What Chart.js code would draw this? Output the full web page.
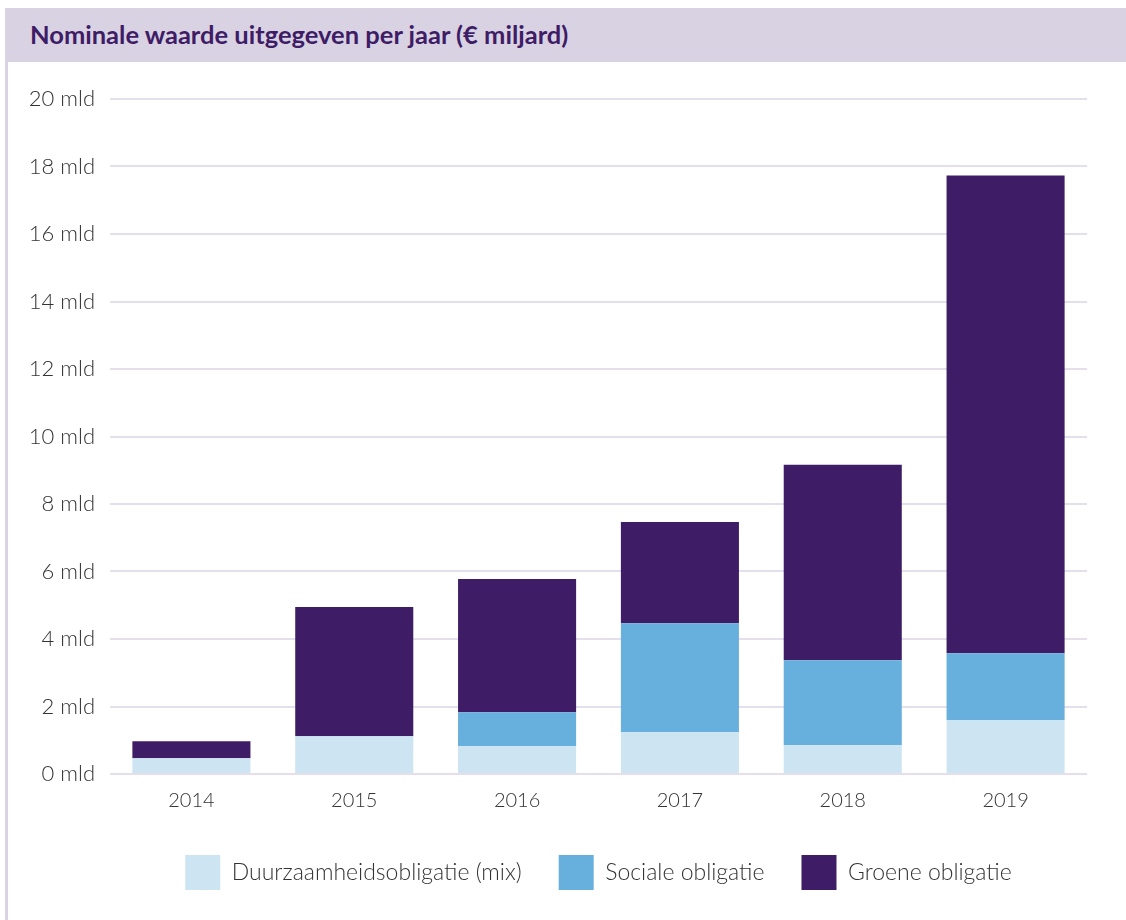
<!DOCTYPE html>
<html>
<head>
<meta charset="utf-8">
<script src="https://cdn.jsdelivr.net/npm/chart.js@4.4.1/dist/chart.umd.min.js"></script>
<style>
    body { margin: 0; background: #fff; font-family: Lato, sans-serif; overflow: hidden; }
    #frame {
        position: absolute; left: 5px; top: 8px; width: 1121px; height: 930px;
        border-left: 3px solid #d9d2e3; box-sizing: border-box;
    }
    #header {
        height: 54px; background: #d9d2e3; color: #3e1c66;
        font: 700 25.5px Lato, sans-serif; line-height: 52px; padding-left: 25px;
        margin-left: -3px;
    }
    #wrap { position: absolute; left: 0; top: 54px; width: 1118px; height: 838px; }
</style>
</head>
<body>
<div id="frame">
    <div id="header">Nominale waarde uitgegeven per jaar (€ miljard)</div>
    <div id="wrap"><canvas id="chart"></canvas></div>
</div>
<script>
const years = ['2014', '2015', '2016', '2017', '2018', '2019'];
const duurzaam = [0.47, 1.12, 0.82, 1.24, 0.85, 1.6];
const sociaal = [0, 0, 1.01, 3.23, 2.52, 1.98];
const groen = [0.5, 3.83, 3.95, 3.0, 5.79, 14.15];

const ctx = document.getElementById('chart').getContext('2d');
new Chart(ctx, {
    type: 'bar',
    data: {
        labels: years,
        datasets: [
            { label: 'Duurzaamheidsobligatie (mix)', data: duurzaam, backgroundColor: '#cde4f3' },
            { label: 'Sociale obligatie', data: sociaal, backgroundColor: '#67afdc' },
            { label: 'Groene obligatie', data: groen, backgroundColor: '#3e1c66' }
        ]
    },
    options: {
        animation: false,
        responsive: true,
        maintainAspectRatio: false,
        datasets: {
            bar: { barPercentage: 0.725, categoryPercentage: 1 }
        },
        layout: { padding: { top: 37, right: 39, bottom: 0, left: 0 } },
        scales: {
            x: {
                stacked: true,
                grid: { display: false, drawTicks: false },
                border: { display: false },
                ticks: { color: '#333', font: { family: 'Lato', size: 20, weight: '300' }, padding: 15 },
                afterFit: (scale) => { scale.height = 44; }
            },
            y: {
                stacked: true,
                min: 0,
                max: 20,
                grid: { color: '#e4dfea', lineWidth: 2, drawTicks: false },
                border: { display: false },
                ticks: {
                    stepSize: 2,
                    color: '#333',
                    font: { family: 'Lato', size: 22, weight: '300' },
                    padding: 15,
                    callback: (v) => v + ' mld'
                },
                afterFit: (scale) => { scale.width = 102; }
            }
        },
        plugins: {
            legend: {
                position: 'bottom',
                fullSize: false,
                labels: {
                    boxWidth: 35,
                    boxHeight: 35,
                    padding: 37,
                    color: '#333',
                    font: { family: 'Lato', size: 23, weight: '300' }
                }
            },
            tooltip: { enabled: false }
        }
    }
});
</script>
</body>
</html>
